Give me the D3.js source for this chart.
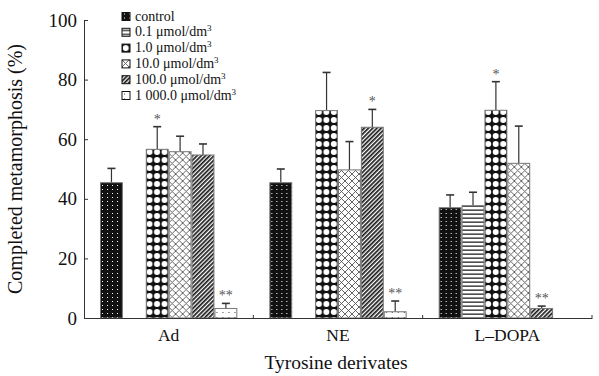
<!DOCTYPE html>
<html>
<head>
    <meta charset="utf-8">
    <title>Completed metamorphosis</title>
    <script src="https://d3js.org/d3.v7.min.js"></script>
    <style>
        body { margin: 0; background: #fff; }
        text { font-family: "Liberation Serif", "DejaVu Serif", serif; fill: #111; }
    </style>
</head>
<body>
    <div id="chart"></div>

    <script>
        const groups = ["Ad", "NE", "L\u2013DOPA"];
        const doses = ["control", "0.1", "1.0", "10.0", "100.0", "1 000.0"];

        // mean and upper error per dose, null = not tested
        const adMean = [45.4, null, 56.6, 55.8, 54.7, 3.2];
        const adErr  = [4.8, null, 7.6, 5.2, 3.7, 1.7];
        const neMean = [45.4, null, 69.6, 49.7, 64.0, 2.1];
        const neErr  = [4.6, null, 12.8, 9.5, 6.0, 3.6];
        const ldMean = [37.0, 37.7, 69.7, 51.9, 3.2, null];
        const ldErr  = [4.3, 4.5, 9.6, 12.5, 0.8, null];

        const adSig = ["", "", "*", "", "", "**"];
        const neSig = ["", "", "", "", "*", "**"];
        const ldSig = ["", "", "*", "", "**", ""];

        const yTicks = [0, 20, 40, 60, 80, 100];

        const means = [adMean, neMean, ldMean];
        const errs = [adErr, neErr, ldErr];
        const sigs = [adSig, neSig, ldSig];

        const data = [];
        groups.forEach((g, gi) => {
            doses.forEach((d, di) => {
                if (means[gi][di] == null) return;
                data.push({group: g, dose: d, value: means[gi][di], err: errs[gi][di], sig: sigs[gi][di]});
            });
        });

        const margin = {top: 20, right: 7, bottom: 58, left: 84};
        const W = 599, H = 376;
        const width = W - margin.left - margin.right;
        const height = H - margin.top - margin.bottom;

        const root = d3.select("#chart").append("svg")
            .attr("width", W)
            .attr("height", H);

        // fill patterns
        const defs = root.append("defs");
        const pat = (id, w, h) => defs.append("pattern")
            .attr("id", id).attr("patternUnits", "userSpaceOnUse")
            .attr("width", w).attr("height", h);

        let p = pat("p0", 5, 4);
        p.append("rect").attr("width", 5).attr("height", 4).attr("fill", "#111");
        p.append("rect").attr("x", 2).attr("y", 1).attr("width", 1).attr("height", 1).attr("fill", "#fff");

        p = pat("p1", 4, 4);
        p.append("rect").attr("width", 4).attr("height", 4).attr("fill", "#fff");
        p.append("rect").attr("y", 1.5).attr("width", 4).attr("height", 1.3).attr("fill", "#222");

        p = pat("p2", 7.5, 8);
        p.append("rect").attr("width", 7.5).attr("height", 8).attr("fill", "#111");
        p.append("circle").attr("cx", 3.75).attr("cy", 4).attr("r", 3.0).attr("fill", "#fff");

        p = pat("p3", 7, 7);
        p.append("rect").attr("width", 7).attr("height", 7).attr("fill", "#fff");
        p.append("path").attr("d", "M0,0L7,7M7,0L0,7").attr("stroke", "#555").attr("stroke-width", 0.9);

        p = pat("p4", 3, 3).attr("patternTransform", "rotate(45)");
        p.append("rect").attr("width", 3).attr("height", 3).attr("fill", "#fff");
        p.append("rect").attr("width", 1.7).attr("height", 3).attr("fill", "#1a1a1a");

        p = pat("p5", 6, 5);
        p.append("rect").attr("width", 6).attr("height", 5).attr("fill", "#fff");
        p.append("rect").attr("x", 2).attr("y", 2).attr("width", 1).attr("height", 1).attr("fill", "#444");

        const fillOf = d3.scaleOrdinal()
            .domain(doses)
            .range(doses.map((d, i) => "url(#p" + i + ")"));

        const svg = root.append("g")
            .attr("transform", "translate(" + margin.left + "," + margin.top + ")");

        const x0 = d3.scaleBand()
            .domain(groups)
            .range([0, width])
            .padding(0);

        const x1 = d3.scaleBand()
            .domain(doses)
            .range([0, x0.bandwidth()])
            .paddingInner(0)
            .paddingOuter(0.7);

        const y = d3.scaleLinear()
            .domain([0, 100])
            .range([height, 0]);

        // bars
        const bar = svg.selectAll(".bar")
            .data(data)
            .join("g")
              .attr("class", "bar")
              .attr("transform", d => "translate(" + (x0(d.group) + x1(d.dose)) + ",0)");

        bar.append("line")
            .attr("x1", x1.bandwidth() / 2).attr("x2", x1.bandwidth() / 2)
            .attr("y1", d => y(d.value)).attr("y2", d => y(d.value + d.err))
            .attr("stroke", "#333").attr("stroke-width", 1.2);
        bar.append("line")
            .attr("x1", x1.bandwidth() / 2 - 4).attr("x2", x1.bandwidth() / 2 + 4)
            .attr("y1", d => y(d.value + d.err)).attr("y2", d => y(d.value + d.err))
            .attr("stroke", "#333").attr("stroke-width", 1.6);

        bar.append("rect")
            .attr("x", 0.5)
            .attr("width", x1.bandwidth() - 1)
            .attr("y", d => y(d.value))
            .attr("height", d => y(0) - y(d.value))
            .attr("fill", d => fillOf(d.dose))
            .attr("stroke", "#777")
            .attr("stroke-width", 1);

        bar.filter(d => d.sig)
            .append("text")
            .attr("x", x1.bandwidth() / 2)
            .attr("y", d => y(d.value + d.err) - 3)
            .attr("text-anchor", "middle")
            .style("font-size", "14px")
            .style("fill", "#555")
            .text(d => d.sig);

        // axes
        const yAxis = svg.append("g")
            .call(d3.axisLeft(y).tickValues(yTicks).tickSize(-4).tickPadding(7));
        yAxis.selectAll("text").style("font-size", "19px");

        const xAxis = svg.append("g")
            .attr("transform", "translate(0," + height + ")")
            .call(d3.axisBottom(x0).tickSize(0).tickPadding(11));
        xAxis.selectAll("text").style("font-size", "17.5px");
        xAxis.selectAll(".tick")
            .append("line")
            .attr("stroke", "#333")
            .attr("x1", x0.bandwidth() / 2).attr("x2", x0.bandwidth() / 2)
            .attr("y1", 0).attr("y2", -3);

        svg.selectAll(".domain").attr("stroke", "#333");
        svg.selectAll(".tick line").attr("stroke", "#333");

        svg.append("text")
            .attr("transform", "translate(" + (15 - margin.left) + "," + (height / 2) + ") rotate(-90)")
            .attr("text-anchor", "middle")
            .attr("dy", "0.35em")
            .style("font-size", "20px")
            .text("Completed metamorphosis (%)");

        svg.append("text")
            .attr("x", width / 2 - 2)
            .attr("y", height + 51)
            .attr("text-anchor", "middle")
            .style("font-size", "19.5px")
            .text("Tyrosine derivates");

        // legend
        const legend = root.append("g")
            .attr("transform", "translate(122,12.5)");
        const item = legend.selectAll("g")
            .data(doses)
            .join("g")
              .attr("transform", (d, i) => "translate(0," + i * 15.8 + ")");
        item.append("rect")
            .attr("width", 8).attr("height", 8)
            .attr("fill", d => fillOf(d))
            .attr("stroke", "#111").attr("stroke-width", 1);
        const lt = item.append("text")
            .attr("x", 13).attr("y", 8)
            .style("font-size", "14px");
        lt.append("tspan").text(d => d === "control" ? d : d + " \u03bcmol/dm");
        lt.filter(d => d !== "control")
            .append("tspan")
            .attr("dy", -5)
            .style("font-size", "9px")
            .text("3");
    </script>
</body>
</html>
